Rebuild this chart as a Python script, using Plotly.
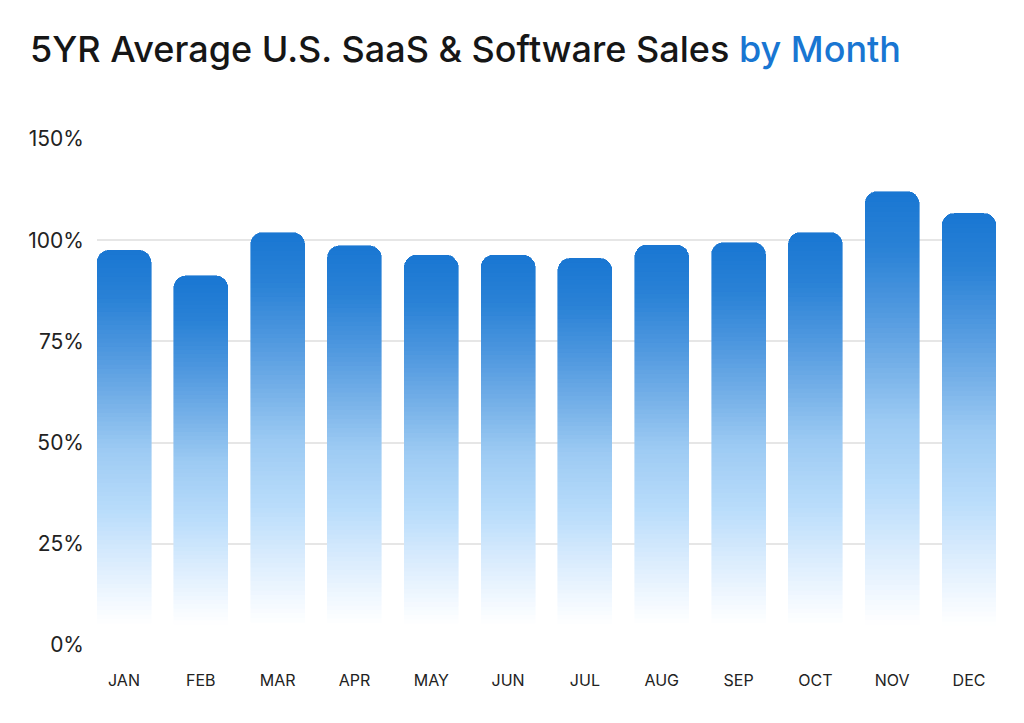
import plotly.graph_objects as go

months = ["JAN", "FEB", "MAR", "APR", "MAY", "JUN", "JUL", "AUG", "SEP", "OCT", "NOV", "DEC"]
values = [97.5, 91.2, 101.9, 98.6, 96.3, 96.3, 95.5, 98.8, 99.4, 101.9, 112.0, 106.6]
tick_vals = [0, 25, 50, 75, 100, 125]
tick_text = ["0%", "25%", "50%", "75%", "100%", "150%"]

# gradient stops: fraction from top of the visible bar -> colour
stops = [(0.0, (25, 118, 210)), (0.13, (42, 130, 214)), (0.27, (79, 152, 223)),
         (0.40, (117, 176, 232)), (0.53, (156, 202, 243)), (0.70, (186, 221, 251)),
         (0.82, (216, 235, 253)), (0.94, (243, 249, 255)), (1.0, (255, 255, 255))]
FADE_END = 5.0  # value where the fade reaches white


def grad(t):
    t = min(max(t, 0.0), 1.0)
    for (a, ca), (b, cb) in zip(stops[:-1], stops[1:]):
        if a <= t <= b:
            f = 0 if b == a else (t - a) / (b - a)
            c = [round(ca[k] + (cb[k] - ca[k]) * f) for k in range(3)]
            return f"rgb({c[0]},{c[1]},{c[2]})"
    return "rgb(255,255,255)"


N = 90
fig = go.Figure()
for i in range(N):
    cols = []
    for v in values:
        yc = (i + 0.5) / N * v
        cols.append(grad((v - yc) / (v - FADE_END)))
    fig.add_trace(go.Bar(
        x=months, y=[v / N for v in values],
        marker=dict(color=cols, line=dict(width=0.6, color=cols)),
        width=0.703, hoverinfo="skip", showlegend=False,
    ))

fig.update_layout(
    width=1024, height=723,
    barmode="stack", barcornerradius=12,
    paper_bgcolor="white", plot_bgcolor="white",
    margin=dict(l=97, r=28, t=139, b=78),
    font=dict(family="Inter", color="#1f1f1f"),
    title=dict(
        text="5YR Average U.S. SaaS &amp; Software Sales <span style='color:#1976D2'>by Month</span>",
        font=dict(family="Inter", size=36, color="#161616", weight=500),
        x=30 / 1024, xanchor="left", xref="container",
        y=1 - 49 / 723, yanchor="middle", yref="container",
    ),
    xaxis=dict(
        range=[-0.3515, 11.3515], showgrid=False, showline=False, zeroline=False,
        tickfont=dict(size=16, color="#222"), ticks="", ticklabelstandoff=24,
    ),
    yaxis=dict(
        range=[0, 125], tickvals=tick_vals, ticktext=tick_text,
        showgrid=True, gridcolor="#e6e6e6", gridwidth=2, zeroline=False, showline=False,
        tickfont=dict(size=21, color="#222"), ticks="", ticklabelstandoff=12,
    ),
)

fig.write_html("out.html")
